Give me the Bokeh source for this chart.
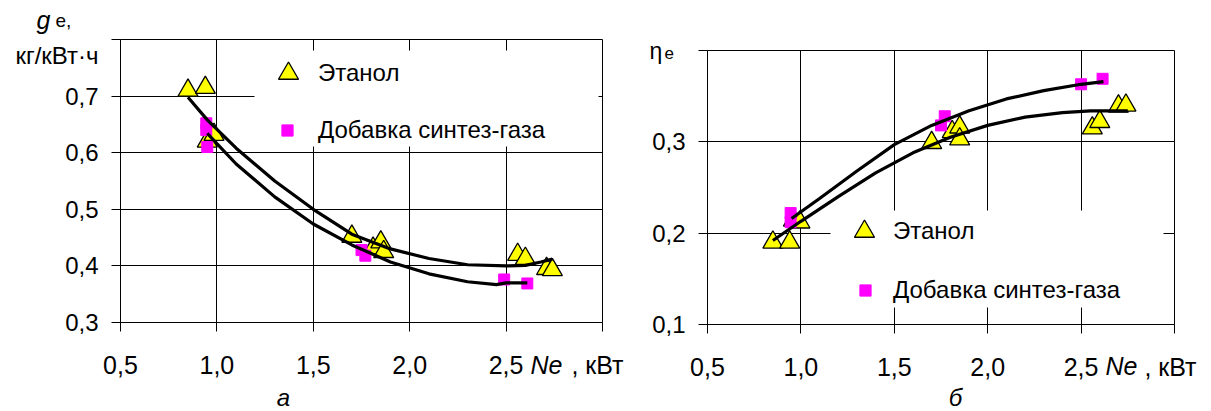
from bokeh.plotting import figure
from bokeh.layouts import row
from bokeh.models import (FixedTicker, CustomJSTickFormatter, Legend,
                          LegendItem, BoxAnnotation, Label)
from bokeh.embed import file_html
from bokeh.resources import INLINE

FONT = "Liberation Sans"

# ---------------- ticks and labels ----------------
x_ticks = [0.5, 1.0, 1.5, 2.0, 2.5, 3.0]
x_label_ticks = [0.5, 1.0, 1.5, 2.0, 2.5]
ge_ticks = [0.3, 0.4, 0.5, 0.6, 0.7, 0.8]
ge_label_ticks = [0.3, 0.4, 0.5, 0.6, 0.7]
eta_ticks = [0.1, 0.2, 0.3, 0.4]
eta_label_ticks = [0.1, 0.2, 0.3]

x_sym = "Ne"
x_unit = ", кВт"
ge_unit = "кг/кВт·ч"
ge_sym = "g"
ge_sub = "e,"
eta_sym = "η"
eta_sub = "e"
cap_a = "а"
cap_b = "б"

# ---------------- data: (a) specific fuel consumption ge ----------------
ne_eth_a = [0.85, 0.94, 0.95, 0.985, 1.70, 1.81, 1.85, 1.865, 2.56, 2.60, 2.71, 2.74]
ge_eth = [0.710, 0.715, 0.620, 0.632, 0.452, 0.431, 0.442, 0.425, 0.420, 0.413, 0.395, 0.393]
ne_syn_a = [0.945, 0.945, 0.95, 1.75, 1.77, 2.49, 2.61]
ge_syn = [0.652, 0.640, 0.610, 0.428, 0.418, 0.376, 0.369]

fit_ne_eth_a = [0.85, 0.95, 1.1, 1.3, 1.5, 1.7, 1.9, 2.1, 2.3, 2.5, 2.6, 2.68, 2.74]
fit_ge_eth = [0.698, 0.658, 0.608, 0.550, 0.500, 0.456, 0.430, 0.413, 0.402, 0.400, 0.401, 0.407, 0.412]
fit_ne_syn_a = [0.95, 1.1, 1.3, 1.5, 1.7, 1.9, 2.1, 2.3, 2.45, 2.5, 2.61]
fit_ge_syn = [0.634, 0.580, 0.522, 0.474, 0.437, 0.407, 0.386, 0.372, 0.367, 0.370, 0.370]

# ---------------- data: (b) effective efficiency eta_e ----------------
ne_eth_b = [0.85, 0.94, 0.96, 0.995, 1.70, 1.81, 1.85, 1.85, 2.56, 2.60, 2.70, 2.74]
eta_eth = [0.190, 0.190, 0.214, 0.212, 0.299, 0.311, 0.316, 0.303, 0.315, 0.322, 0.339, 0.340]
ne_syn_b = [0.945, 0.945, 1.75, 1.77, 2.50, 2.615]
eta_syn = [0.222, 0.212, 0.318, 0.328, 0.363, 0.369]

fit_ne_syn_b = [0.95, 1.1, 1.3, 1.5, 1.7, 1.9, 2.1, 2.3, 2.5, 2.62]
fit_eta_syn = [0.216, 0.238, 0.268, 0.297, 0.318, 0.334, 0.347, 0.356, 0.363, 0.366]
fit_ne_eth_b = [0.85, 1.0, 1.2, 1.4, 1.6, 1.8, 2.0, 2.2, 2.4, 2.55, 2.75]
fit_eta_eth = [0.192, 0.213, 0.240, 0.266, 0.288, 0.305, 0.318, 0.327, 0.332, 0.334, 0.334]

lbl_eth = "Этанол"
lbl_syn = "Добавка синтез-газа"

FMT = ("for (let i = 0; i < st.length; i++) {"
       "  if (Math.abs(tick - st[i]) < 1e-6) { return ss[i]; } }"
       "return tick.toFixed(1).replace('.', ',');")

H = 411
W1 = 632
W2 = 1211 - W1


def make_fig(width, xr, yr, mb):
    p = figure(width=width, height=H, x_range=xr, y_range=yr,
               output_backend="svg", toolbar_location=None,
               min_border_left=mb[0], min_border_right=mb[1],
               min_border_top=mb[2], min_border_bottom=mb[3])
    p.frame_align = False
    p.background_fill_color = "white"
    p.border_fill_color = "white"
    p.outline_line_color = "black"
    p.outline_line_width = 1
    p.outline_line_alpha = 1
    return p


def style_axes(p, xmarks, xlabels, xspec, ymarks, ylabels, yspec):
    # tick marks are drawn as "minor" ticks at the grid positions; the
    # labelled ticks (including the axis-name labels) carry no mark
    p.xaxis.ticker = FixedTicker(ticks=xlabels + [t for t, _ in xspec], minor_ticks=xmarks)
    p.yaxis.ticker = FixedTicker(ticks=ylabels + [t for t, _ in yspec], minor_ticks=ymarks)
    p.xaxis.formatter = CustomJSTickFormatter(
        args=dict(st=[t for t, _ in xspec], ss=[s for _, s in xspec]), code=FMT)
    p.yaxis.formatter = CustomJSTickFormatter(
        args=dict(st=[t for t, _ in yspec], ss=[s for _, s in yspec]), code=FMT)
    for ax in (p.xaxis, p.yaxis):
        ax.axis_line_color = "black"
        ax.axis_line_width = 1
        ax.major_tick_line_color = None
        ax.major_tick_out = 9
        ax.major_tick_in = 0
        ax.minor_tick_line_color = "black"
        ax.minor_tick_line_width = 1
        ax.minor_tick_out = 9
        ax.minor_tick_in = 0
        ax.major_label_text_font = FONT
        ax.major_label_text_color = "black"
    p.xaxis.major_label_text_font_size = "25px"
    p.yaxis.major_label_text_font_size = "24px"
    p.xaxis.major_label_standoff = 19
    p.yaxis.major_label_standoff = 13
    p.xgrid[0].ticker = FixedTicker(ticks=xmarks)
    p.ygrid[0].ticker = FixedTicker(ticks=ymarks)
    for g in (p.xgrid, p.ygrid):
        g.grid_line_color = "black"
        g.grid_line_width = 1
        g.grid_line_alpha = 1


def add_series(p, xe, ye, xs, ys, fxe, fye, fxs, fys):
    tri = p.scatter(xe, ye, marker="triangle", size=20, fill_color="#FFFF00",
                    line_color="black", line_width=1.3)
    sq = p.scatter(xs, ys, marker="square", size=11, fill_color="#FF00FF",
                   line_color="#FF00FF")
    p.line(fxe, fye, line_color="black", line_width=3.2)
    p.line(fxs, fys, line_color="black", line_width=3.2)
    return tri, sq


def add_legends(p, tri, sq, tri_loc, tri_stand, sq_loc, sq_stand):
    common = dict(padding=0, margin=0, spacing=0, background_fill_alpha=0,
                  border_line_alpha=0, label_text_font=FONT,
                  label_text_font_size="24px", label_text_color="black")
    l1 = Legend(items=[LegendItem(label=lbl_eth, renderers=[tri])],
                location=tri_loc, glyph_width=50, glyph_height=50,
                label_standoff=tri_stand, **common)
    l2 = Legend(items=[LegendItem(label=lbl_syn, renderers=[sq])],
                location=sq_loc, glyph_width=28, glyph_height=28,
                label_standoff=sq_stand, **common)
    p.add_layout(l1)
    p.add_layout(l2)


def side_label(p, side, x, base_px, to_y, text, size, style="normal", align="left"):
    # labels live in a side panel so that they are not clipped to the frame;
    # they are vertically centred, so shift from the wanted baseline
    mid_px = base_px - 0.3465 * size
    p.add_layout(Label(x=x, y=to_y(mid_px), text=text, text_font=FONT,
                       text_font_size=f"{size}px", text_font_style=style,
                       text_align=align, text_baseline="middle",
                       text_color="black"), side)


# ---------------- figure (a) ----------------
# frame in picture px: x 120..602, y 39..322
pa = make_fig(W1, (0.5, 3.0), (0.3, 0.8), (120, W1 - 602, 39, H - 322))
XA = lambda px: 0.5 + (px - 120) / 482 * 2.5
YA = lambda py: 0.8 - (py - 39) / 283 * 0.5
style_axes(pa, x_ticks, x_label_ticks, [(XA(597), x_unit)],
           ge_ticks, ge_label_ticks, [(YA(55), ge_unit)])
pa.add_layout(BoxAnnotation(left=XA(254), right=XA(598), top=YA(50), bottom=YA(146),
                            fill_color="white", fill_alpha=1, line_alpha=0))
tri_a, sq_a = add_series(pa, ne_eth_a, ge_eth, ne_syn_a, ge_syn,
                         fit_ne_eth_a, fit_ge_eth, fit_ne_syn_a, fit_ge_syn)
add_legends(pa, tri_a, sq_a, (143, 322 - 98), 5, (153, 322 - 144), 17)
side_label(pa, "above", XA(36), 28, YA, ge_sym, 25, "italic")
side_label(pa, "right", XA(55), 27, YA, ge_sub, 19)
side_label(pa, "right", XA(283), 405, YA, cap_a, 24, "italic", "center")
side_label(pa, "below", XA(530), 373, YA, x_sym, 25, "italic")

# ---------------- figure (b) ----------------
# frame in picture px: x 707..1174, y 50..324
pb = make_fig(W2, (0.5, 3.0), (0.1, 0.4), (707 - W1, 1211 - 1174, 50, H - 324))
XB = lambda px: 0.5 + (px - 707) / 467 * 2.5
YB = lambda py: 0.4 - (py - 50) / 274 * 0.3
style_axes(pb, x_ticks, x_label_ticks, [(XB(1170), x_unit)],
           eta_ticks, eta_label_ticks, [])
pb.add_layout(BoxAnnotation(left=XB(830), right=XB(1163), top=YB(210), bottom=YB(307),
                            fill_color="white", fill_alpha=1, line_alpha=0))
tri_b, sq_b = add_series(pb, ne_eth_b, eta_eth, ne_syn_b, eta_syn,
                         fit_ne_eth_b, fit_eta_eth, fit_ne_syn_b, fit_eta_syn)
add_legends(pb, tri_b, sq_b, (864 - 25 - 707, 324 - 256), 4, (865 - 14 - 707, 324 - 304), 14)
side_label(pb, "above", XB(649), 58, YB, eta_sym, 23)
side_label(pb, "above", XB(664), 58, YB, eta_sub, 17)
side_label(pb, "right", XB(955), 405, YB, cap_b, 24, "italic", "center")
side_label(pb, "below", XB(1105), 374, YB, x_sym, 25, "italic")

layout = row(pa, pb)
open("out.html", "w").write(file_html(layout, INLINE))
